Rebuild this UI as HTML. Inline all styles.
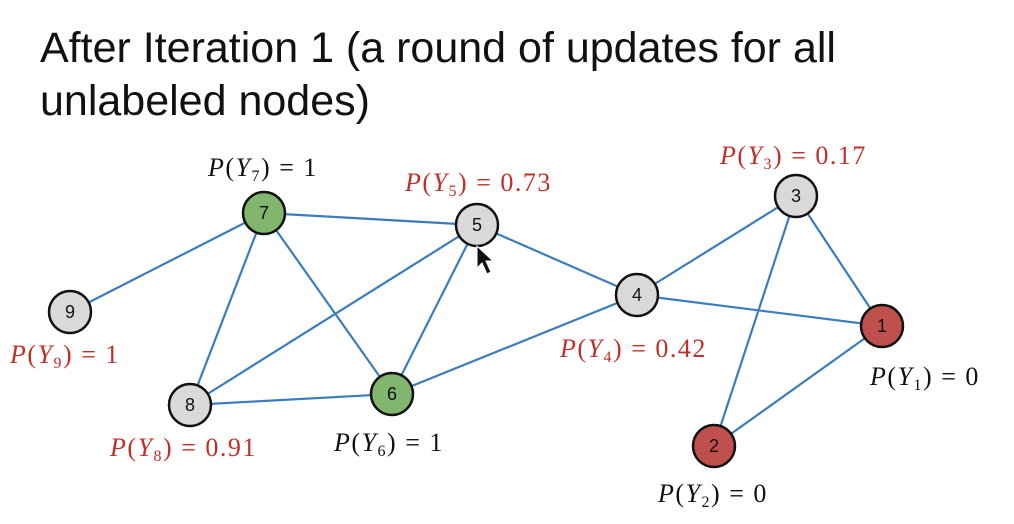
<!DOCTYPE html>
<html><head><meta charset="utf-8"><style>
html,body{margin:0;padding:0;background:#fff;width:1014px;height:524px;overflow:hidden}
.t{position:absolute;left:40px;font-family:"Liberation Sans",sans-serif;font-size:43px;color:#111;line-height:52px;white-space:nowrap}
</style></head><body>
<div class="t" style="top:22px">After Iteration 1 (a round of updates for all</div>
<div class="t" style="top:75px">unlabeled nodes)</div>
<svg width="1014" height="524" style="position:absolute;left:0;top:0">
<g stroke="#3a7dbf" stroke-width="2.2">
<line x1="264" y1="213" x2="477" y2="225"/>
<line x1="264" y1="213" x2="70" y2="312"/>
<line x1="264" y1="213" x2="190" y2="405"/>
<line x1="264" y1="213" x2="392" y2="394"/>
<line x1="477" y1="225" x2="190" y2="405"/>
<line x1="477" y1="225" x2="392" y2="394"/>
<line x1="477" y1="225" x2="637" y2="295"/>
<line x1="637" y1="295" x2="392" y2="394"/>
<line x1="637" y1="295" x2="796" y2="196"/>
<line x1="637" y1="295" x2="882" y2="326"/>
<line x1="796" y1="196" x2="882" y2="326"/>
<line x1="796" y1="196" x2="714" y2="446"/>
<line x1="714" y1="446" x2="882" y2="326"/>
<line x1="190" y1="405" x2="392" y2="394"/>
</g>
<g stroke="#111" stroke-width="2.5" font-family="Liberation Sans,sans-serif" font-size="18" text-anchor="middle">
<circle cx="264" cy="213" r="21" fill="#82b56e"/>
<circle cx="477" cy="225" r="21" fill="#d9d9d9"/>
<circle cx="796" cy="196" r="21" fill="#d9d9d9"/>
<circle cx="70" cy="312" r="21" fill="#d9d9d9"/>
<circle cx="637" cy="295" r="21" fill="#d9d9d9"/>
<circle cx="882" cy="326" r="21" fill="#c0504d"/>
<circle cx="190" cy="405" r="21" fill="#d9d9d9"/>
<circle cx="392" cy="394" r="21" fill="#82b56e"/>
<circle cx="714" cy="446" r="21" fill="#c0504d"/>
<g stroke="none" fill="#111">
<text x="264" y="219">7</text><text x="477" y="231">5</text><text x="796" y="202">3</text>
<text x="70" y="318">9</text><text x="637" y="301">4</text><text x="882" y="332">1</text>
<text x="190" y="411">8</text><text x="392" y="400">6</text><text x="714" y="452">2</text>
</g></g>
<path d="M477 246 L477 268 L482 263 L487 274 L491 272 L486 261 L493 261 Z" fill="#111" stroke="#fff" stroke-width="1"/>
<g font-family="Liberation Serif,serif" font-size="26" letter-spacing="1.5">
<text x="208" y="176" fill="#111"><tspan font-style="italic">P</tspan>(<tspan font-style="italic">Y</tspan><tspan font-size="16" dy="5">7</tspan><tspan dy="-5">) = 1</tspan></text>
<text x="405" y="191" fill="#c0302a"><tspan font-style="italic">P</tspan>(<tspan font-style="italic">Y</tspan><tspan font-size="16" dy="5">5</tspan><tspan dy="-5">) = 0.73</tspan></text>
<text x="720" y="164" fill="#c0302a"><tspan font-style="italic">P</tspan>(<tspan font-style="italic">Y</tspan><tspan font-size="16" dy="5">3</tspan><tspan dy="-5">) = 0.17</tspan></text>
<text x="10" y="363" fill="#c0302a"><tspan font-style="italic">P</tspan>(<tspan font-style="italic">Y</tspan><tspan font-size="16" dy="5">9</tspan><tspan dy="-5">) = 1</tspan></text>
<text x="560" y="357" fill="#c0302a"><tspan font-style="italic">P</tspan>(<tspan font-style="italic">Y</tspan><tspan font-size="16" dy="5">4</tspan><tspan dy="-5">) = 0.42</tspan></text>
<text x="870" y="385" fill="#111"><tspan font-style="italic">P</tspan>(<tspan font-style="italic">Y</tspan><tspan font-size="16" dy="5">1</tspan><tspan dy="-5">) = 0</tspan></text>
<text x="110" y="456" fill="#c0302a"><tspan font-style="italic">P</tspan>(<tspan font-style="italic">Y</tspan><tspan font-size="16" dy="5">8</tspan><tspan dy="-5">) = 0.91</tspan></text>
<text x="334" y="451" fill="#111"><tspan font-style="italic">P</tspan>(<tspan font-style="italic">Y</tspan><tspan font-size="16" dy="5">6</tspan><tspan dy="-5">) = 1</tspan></text>
<text x="658" y="502" fill="#111"><tspan font-style="italic">P</tspan>(<tspan font-style="italic">Y</tspan><tspan font-size="16" dy="5">2</tspan><tspan dy="-5">) = 0</tspan></text>
</g>
</svg>
</body></html>
